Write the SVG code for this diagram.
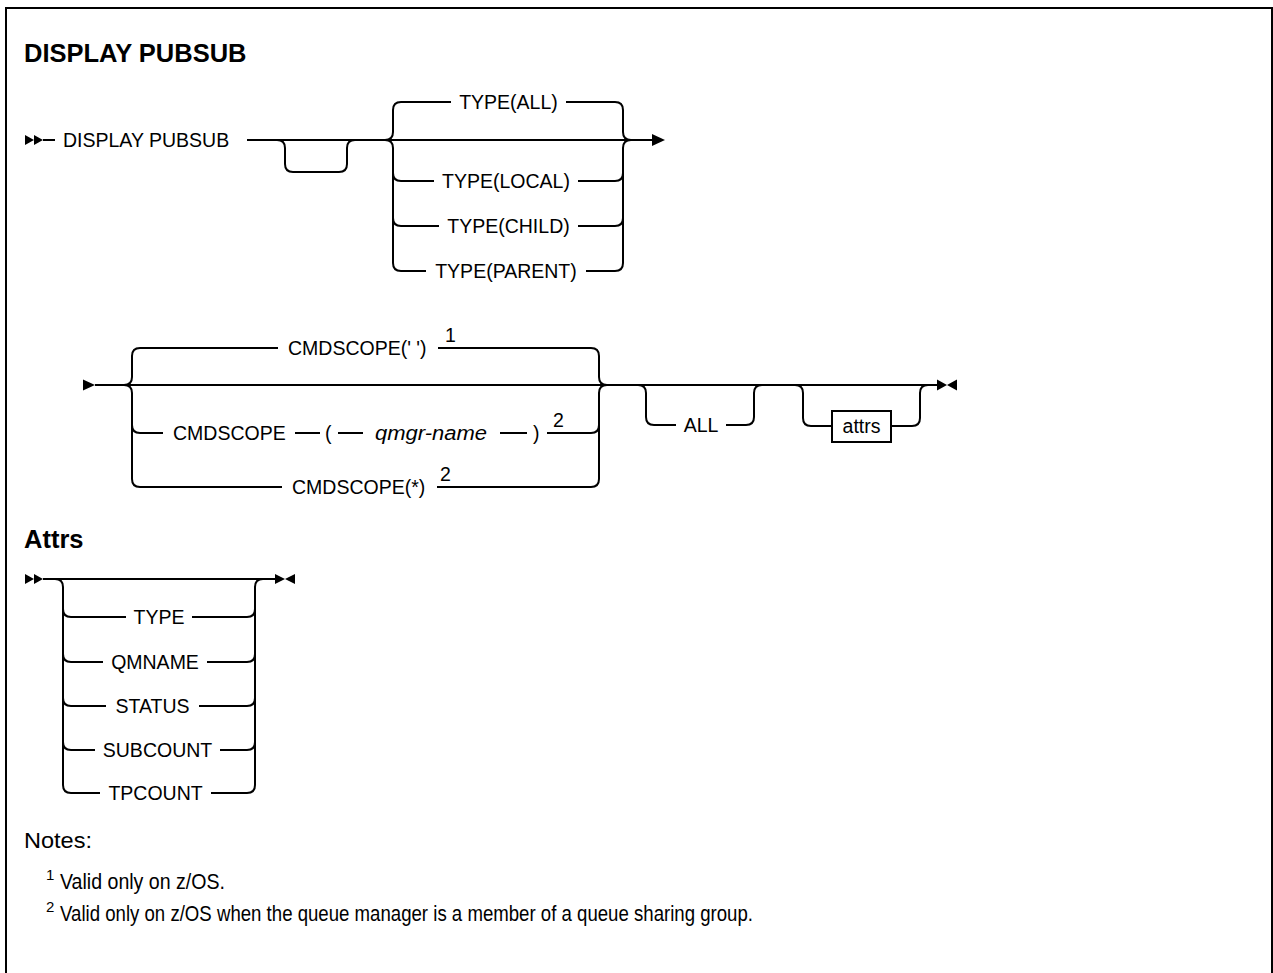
<svg xmlns="http://www.w3.org/2000/svg" width="1273" height="973" viewBox="0 0 1273 973">
<style>
  .ln { fill: none; stroke: #000; stroke-width: 2; }
  .ah { fill: #000; stroke: none; }
  .t { font-family: "Liberation Sans", Arial, sans-serif; font-size: 19.5px; fill: #000; }
  .m { text-anchor: middle; }
  .it { font-style: italic; }
  .h { font-family: "Liberation Sans", Arial, sans-serif; font-size: 25.5px; font-weight: bold; fill: #000; }
  .n { font-family: "Liberation Sans", Arial, sans-serif; font-size: 22px; fill: #000; }
  .sup { font-family: "Liberation Sans", Arial, sans-serif; font-size: 15px; fill: #000; }
  .box { fill: #fff; stroke: #000; stroke-width: 2; }
</style>
<rect x="0" y="0" width="1273" height="973" fill="#fff"/>
<path class="ln" d="M6 973 V8 H1272 V973" stroke-width="2.5"/>

<text id="title" class="h" x="24" y="62">DISPLAY PUBSUB</text>

<g id="connectors">
  <!-- row 1 -->
  <polygon class="ah" points="25,135 34,140 25,145"/>
  <polygon class="ah" points="34,135 43,140 34,145"/>
  <path class="ln" d="M43 140 H55"/>
  <path class="ln" d="M247 140 H652"/>
  <polygon class="ah" points="652,134 665,140 652,146"/>
  <path class="ln" d="M277 140 Q285 140 285 148 V164 Q285 172 293 172 H339 Q347 172 347 164 V148 Q347 140 355 140"/>
  <path class="ln" d="M385 140 Q393 140 393 132 V110 Q393 102 401 102 H451"/>
  <path class="ln" d="M566 102 H615 Q623 102 623 110 V132 Q623 140 631 140"/>
  <path class="ln" d="M385 140 Q393 140 393 148 V263 Q393 271 401 271 H426"/>
  <path class="ln" d="M631 140 Q623 140 623 148 V263 Q623 271 615 271 H586"/>
  <path class="ln" d="M393 173 Q393 181 401 181 H434"/>
  <path class="ln" d="M578 181 H615 Q623 181 623 173"/>
  <path class="ln" d="M393 218 Q393 226 401 226 H439"/>
  <path class="ln" d="M578 226 H615 Q623 226 623 218"/>

  <!-- row 2 -->
  <polygon class="ah" points="83,379.5 95,385 83,390.5"/>
  <path class="ln" d="M95 385 H937"/>
  <path class="ln" d="M124 385 Q132 385 132 377 V356 Q132 348 140 348 H278"/>
  <path class="ln" d="M124 385 Q132 385 132 393 V479 Q132 487 140 487 H282"/>
  <path class="ln" d="M132 425 Q132 433 140 433 H163"/>
  <path class="ln" d="M438 348 H591 Q599 348 599 356 V377 Q599 385 607 385"/>
  <path class="ln" d="M437 487 H591 Q599 487 599 479 V393 Q599 385 607 385"/>
  <path class="ln" d="M295 433 H320"/>
  <path class="ln" d="M338 433 H363"/>
  <path class="ln" d="M500 433 H527"/>
  <path class="ln" d="M547 433 H591 Q599 433 599 425"/>
  <path class="ln" d="M638 385 Q646 385 646 393 V417 Q646 425 654 425 H676"/>
  <path class="ln" d="M726 425 H746 Q754 425 754 417 V393 Q754 385 762 385"/>
  <path class="ln" d="M795 385 Q803 385 803 393 V418 Q803 426 811 426 H832"/>
  <path class="ln" d="M891 426 H912 Q920 426 920 418 V393 Q920 385 928 385"/>
  <polygon class="ah" points="937,379.5 947,385 937,390.5"/>
  <polygon class="ah" points="957,379.5 947,385 957,390.5"/>

  <!-- attrs -->
  <polygon class="ah" points="25,574 34,579 25,584"/>
  <polygon class="ah" points="34,574 43,579 34,584"/>
  <path class="ln" d="M43 579 H275"/>
  <path class="ln" d="M55 579 Q63 579 63 587 V785 Q63 793 71 793 H100"/>
  <path class="ln" d="M263 579 Q255 579 255 587 V785 Q255 793 247 793 H211"/>
  <path class="ln" d="M63 609 Q63 617 71 617 H126"/>
  <path class="ln" d="M192 617 H247 Q255 617 255 609"/>
  <path class="ln" d="M63 654 Q63 662 71 662 H103"/>
  <path class="ln" d="M207 662 H247 Q255 662 255 654"/>
  <path class="ln" d="M63 698 Q63 706 71 706 H106"/>
  <path class="ln" d="M199 706 H247 Q255 706 255 698"/>
  <path class="ln" d="M63 742 Q63 750 71 750 H95"/>
  <path class="ln" d="M220 750 H247 Q255 750 255 742"/>
  <polygon class="ah" points="275,574 285,579 275,584"/>
  <polygon class="ah" points="295,574 285,579 295,584"/>
</g>

<g id="n-display"><text class="t" x="63" y="147">DISPLAY PUBSUB</text></g>
<g id="n-type-all"><text class="t m" x="508.5" y="109">TYPE(ALL)</text></g>
<g id="n-type-local"><text class="t m" x="506" y="188">TYPE(LOCAL)</text></g>
<g id="n-type-child"><text class="t m" x="508.5" y="233">TYPE(CHILD)</text></g>
<g id="n-type-parent"><text class="t m" x="506" y="278">TYPE(PARENT)</text></g>

<g id="n-cmdscope-blank">
  <text class="t" x="288" y="355">CMDSCOPE(' ')</text>
  <text class="t" x="445" y="342">1</text>
</g>
<g id="n-cmdscope-qmgr">
  <text class="t" x="173" y="440">CMDSCOPE</text>
  <text class="t" x="325" y="440">(</text>
  <text class="t it" x="375" y="440" textLength="112" lengthAdjust="spacingAndGlyphs">qmgr-name</text>
  <text class="t" x="533" y="440">)</text>
  <text class="t" x="553" y="427">2</text>
</g>
<g id="n-cmdscope-star">
  <text class="t" x="292" y="494">CMDSCOPE(*)</text>
  <text class="t" x="440" y="481">2</text>
</g>
<g id="n-all"><text class="t m" x="701" y="432">ALL</text></g>
<g id="n-attrs-ref">
  <rect class="box" x="832" y="411" width="59" height="31"/>
  <text class="t m" x="861.5" y="433">attrs</text>
</g>

<text id="attrs-title" class="h" x="24" y="548">Attrs</text>
<g id="n-a-type"><text class="t m" x="159" y="624">TYPE</text></g>
<g id="n-a-qmname"><text class="t m" x="155" y="669">QMNAME</text></g>
<g id="n-a-status"><text class="t m" x="152.5" y="713">STATUS</text></g>
<g id="n-a-subcount"><text class="t m" x="157.5" y="757">SUBCOUNT</text></g>
<g id="n-a-tpcount"><text class="t m" x="155.5" y="800">TPCOUNT</text></g>

<g id="notes">
  <text class="n" x="24" y="848" textLength="68" lengthAdjust="spacingAndGlyphs">Notes:</text>
  <text class="sup" x="46" y="880">1</text>
  <text class="n" x="60" y="889" textLength="165" lengthAdjust="spacingAndGlyphs">Valid only on z/OS.</text>
  <text class="sup" x="46" y="912">2</text>
  <text class="n" x="60" y="921" textLength="693" lengthAdjust="spacingAndGlyphs">Valid only on z/OS when the queue manager is a member of a queue sharing group.</text>
</g>
</svg>
